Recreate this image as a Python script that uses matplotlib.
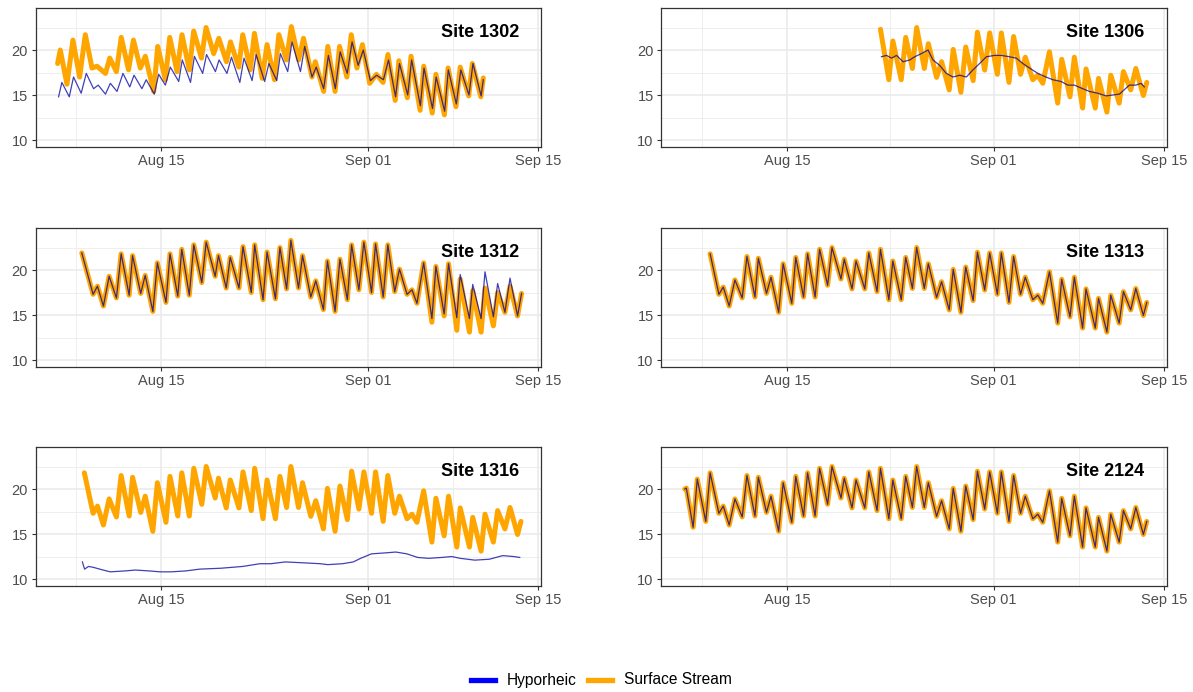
import matplotlib
matplotlib.use("Agg")
import matplotlib.pyplot as plt
from matplotlib.lines import Line2D

plt.rcParams['font.family'] = ['Liberation Sans', 'DejaVu Sans']

# ---- data (x = day: Aug d -> d, Sep d -> 31 + d) ----
surf_t = [6.57, 6.70, 7.26, 7.60, 8.30, 8.66, 9.38, 9.74, 10.23, 10.70, 11.30, 11.69, 12.35, 12.63,
          13.30, 13.67, 14.30, 14.67, 15.38, 15.71, 16.35, 16.68, 17.30, 17.67, 18.33, 18.69, 19.43,
          19.70, 20.34, 20.67, 21.39, 21.72, 22.40, 22.68, 23.37, 23.70, 24.39, 24.76, 25.31, 25.66,
          26.29, 26.62, 27.30, 27.71, 28.34, 28.67, 29.30, 29.70, 30.31, 30.66, 31.26, 31.67, 32.30,
          32.63, 33.26, 33.64, 34.21, 34.60, 35.22, 35.63, 36.04, 36.59, 37.27, 37.60, 38.28, 38.64,
          39.32, 39.60, 40.36, 40.63, 41.32, 41.64, 42.33, 42.68, 43.28, 43.70, 44.32, 44.60]
surf_v = [20.0, 20.1, 15.75, 21.1, 16.4, 21.8, 17.3, 18.1, 16.0, 18.9, 16.9, 21.5, 17.0, 21.3,
          17.4, 19.2, 15.3, 20.7, 16.3, 21.4, 17.0, 21.8, 17.0, 22.3, 18.3, 22.5, 19.0,
          21.2, 17.9, 21.0, 17.9, 21.9, 17.6, 22.3, 16.7, 21.0, 16.7, 21.4, 17.95, 22.5,
          17.95, 20.7, 16.96, 18.7, 15.57, 20.07, 15.3, 20.33, 16.6, 21.98, 17.77, 21.9, 17.3,
          21.9, 16.4, 21.5, 17.3, 19.2, 16.7, 17.2, 16.3, 19.8, 14.1, 18.97, 14.8, 19.2,
          13.55, 17.9, 13.55, 16.85, 13.1, 17.2, 14.1, 17.6, 15.57, 17.95, 14.95, 16.4]

s1302_t = [6.46, 6.68, 7.23, 7.72, 8.27, 8.74, 9.29, 9.70, 10.40, 10.75, 11.30, 11.70, 12.30, 12.70,
           13.27, 13.68, 14.37, 14.70, 15.33, 15.69, 16.29, 16.70, 17.30, 17.66, 18.30, 18.68, 19.31,
           19.73, 20.36, 20.69, 21.37, 21.70, 22.33, 22.66, 23.30, 23.70, 24.31, 24.67, 25.30, 25.70,
           26.30, 26.70, 27.40, 27.67, 28.36, 28.70, 29.30, 29.67, 30.27, 30.63, 31.10, 31.55, 32.15,
           32.70, 33.25, 33.65, 34.25, 34.55, 35.25, 35.55, 36.30, 36.60, 37.30, 37.60, 38.30, 38.60,
           39.25, 39.60, 40.30, 40.60, 41.30, 41.50]
s1302_v = [18.5, 20.0, 16.2, 21.1, 17.0, 21.7, 18.0, 18.2, 17.4, 19.1, 17.6, 21.4, 17.8, 21.1,
           18.0, 19.3, 15.4, 20.4, 16.7, 21.4, 17.6, 21.7, 17.8, 22.1, 19.1, 22.5, 19.6,
           21.3, 18.7, 20.9, 18.1, 21.7, 17.8, 21.85, 16.85, 20.6, 16.7, 21.7, 18.9, 22.6,
           18.9, 21.3, 17.0, 18.7, 15.4, 20.4, 15.4, 20.4, 17.0, 21.7, 18.0, 20.6, 16.3,
           17.3, 16.4, 19.5, 14.4, 18.8, 14.7, 19.3, 13.3, 18.2, 13.0, 17.3, 12.8, 18.0,
           13.7, 18.1, 14.9, 18.5, 14.8, 16.9]
h1302_t = [6.54, 6.81, 7.42, 7.77, 8.40, 8.82, 9.42, 9.80, 10.40, 10.80, 11.35, 11.84, 12.40, 12.75,
           13.40, 13.75, 14.42, 14.78, 15.33, 15.74, 16.43, 16.72, 17.40, 17.72, 18.40, 18.72, 19.45,
           19.75, 20.40, 20.77, 21.46, 21.80, 22.47, 22.80, 23.50, 23.85, 24.50, 24.80, 25.40, 25.75,
           26.45, 26.80, 27.40, 27.75, 28.36, 28.75, 29.32, 29.72, 30.30, 30.70, 31.20, 31.62, 32.20,
           32.72, 33.28, 33.70, 34.28, 34.60, 35.28, 35.60, 36.32, 36.62, 37.32, 37.62, 38.32, 38.62,
           39.28, 39.65, 40.32, 40.65, 41.32, 41.50]
h1302_v = [14.8, 16.4, 14.8, 17.0, 15.2, 17.4, 15.7, 16.1, 15.1, 16.3, 15.4, 17.4, 15.9, 17.2,
           15.7, 16.7, 15.1, 17.3, 16.1, 18.1, 16.5, 18.9, 16.4, 19.3, 17.4, 19.5, 17.6,
           18.9, 17.4, 19.2, 16.4, 19.1, 16.6, 19.5, 16.5, 18.5, 16.6, 19.6, 17.6, 20.9,
           17.6, 20.4, 17.0, 18.1, 15.7, 19.4, 15.7, 19.8, 17.4, 20.9, 18.3, 20.0, 16.6,
           17.2, 16.7, 18.9, 14.8, 18.5, 15.0, 18.9, 13.8, 18.0, 13.5, 17.0, 13.2, 17.8,
           14.0, 17.8, 15.0, 18.5, 14.9, 16.7]

h1306_t = [22.76, 23.17, 23.60, 24.00, 24.54, 25.10, 25.50, 26.05, 26.60, 27.00, 27.55, 28.10, 28.65,
           29.20, 29.75, 30.30, 30.84, 31.40, 32.08, 32.63, 33.30, 33.86, 34.40, 34.95, 35.64, 36.30,
           36.87, 37.55, 38.10, 38.65, 39.33, 39.88, 40.57, 41.25, 41.80, 42.35, 42.76, 43.17, 43.70,
           44.13, 44.40]
h1306_v = [19.25, 19.4, 19.1, 19.4, 18.7, 18.9, 19.25, 19.6, 20.0, 18.9, 18.3, 17.4, 17.0,
           17.2, 17.0, 17.8, 18.5, 19.25, 19.4, 19.4, 19.25, 19.1, 18.5, 18.0, 17.4, 17.0,
           16.7, 16.5, 16.1, 16.1, 15.7, 15.4, 15.2, 14.9, 15.0, 15.1, 15.6, 16.1, 16.1,
           16.3, 15.9]

s1312_t = [8.45, 9.38, 9.74, 10.23, 10.70, 11.30, 11.69, 12.35, 12.63, 13.30, 13.67, 14.30, 14.67,
           15.38, 15.71, 16.35, 16.68, 17.30, 17.67, 18.33, 18.69, 19.43, 19.70, 20.34, 20.67, 21.39,
           21.72, 22.40, 22.68, 23.37, 23.70, 24.39, 24.76, 25.31, 25.66, 26.29, 26.62, 27.30, 27.71,
           28.34, 28.67, 29.30, 29.70, 30.31, 30.66, 31.26, 31.67, 32.30, 32.63, 33.26, 33.64, 34.21,
           34.60, 35.22, 35.63, 36.04, 36.59, 37.27, 37.60, 38.28, 38.64, 39.32, 39.60, 40.36, 40.63,
           41.32, 41.64, 42.33, 42.68, 43.28, 43.70, 44.32, 44.65]
s1312_v = [21.9, 17.3, 18.2, 16.0, 19.3, 16.9, 21.8, 17.2, 21.6, 17.4, 19.4, 15.4, 20.8,
           16.4, 21.8, 17.1, 22.3, 17.2, 22.8, 18.6, 23.1, 19.3, 21.6, 18.0, 21.4, 18.0,
           22.6, 17.5, 22.8, 16.7, 22.0, 16.8, 22.5, 17.9, 23.3, 18.0, 21.6, 17.0, 18.8,
           15.6, 21.0, 15.4, 21.2, 16.7, 22.8, 17.8, 23.1, 17.5, 22.9, 17.0, 22.8, 17.6,
           20.1, 17.3, 17.8, 16.3, 20.8, 14.2, 20.4, 14.9, 20.7, 13.3, 19.0, 13.1, 17.7,
           13.1, 18.0, 13.8, 17.5, 15.3, 18.2, 14.9, 17.4]
h1312_v = [21.9, 17.3, 18.2, 16.0, 19.3, 16.9, 21.8, 17.2, 21.6, 17.4, 19.4, 15.4, 20.8,
           16.4, 21.8, 17.1, 22.3, 17.2, 22.8, 18.6, 23.1, 19.3, 21.6, 18.0, 21.4, 18.0,
           22.6, 17.5, 22.8, 16.7, 22.0, 16.8, 22.5, 17.9, 23.3, 18.0, 21.6, 17.0, 18.8,
           15.6, 21.0, 15.4, 21.2, 16.7, 22.8, 17.8, 23.1, 17.5, 22.9, 17.0, 22.8, 17.6,
           20.1, 17.3, 17.8, 16.3, 20.8, 14.6, 20.4, 15.1, 20.7, 14.7, 19.5, 14.6, 18.4,
           14.6, 19.8, 14.8, 18.5, 15.3, 19.1, 14.9, 17.4]

h1316_t = [8.50, 8.68, 9.00, 9.40, 10.20, 10.80, 12.00, 12.85, 14.00, 14.90, 15.80, 17.00, 18.15,
           19.90, 21.70, 23.10, 24.00, 25.20, 26.70, 28.10, 28.70, 29.90, 30.80, 31.40, 32.30, 33.40,
           34.30, 35.20, 36.10, 37.00, 38.10, 38.90, 39.60, 40.80, 42.00, 43.10, 44.00, 44.50]
h1316_v = [11.9, 11.1, 11.4, 11.3, 11.0, 10.8, 10.9, 11.0, 10.9, 10.8, 10.8, 10.9, 11.1,
           11.2, 11.4, 11.7, 11.7, 11.9, 11.8, 11.7, 11.6, 11.7, 11.9, 12.3, 12.8, 12.9,
           13.0, 12.8, 12.4, 12.3, 12.4, 12.5, 12.3, 12.1, 12.2, 12.6, 12.5, 12.4]

site_names = ["Site 1302", "Site 1306", "Site 1312", "Site 1313", "Site 1316", "Site 2124"]

x_tick_pos = [15, 32, 46]
x_tick_lab = ["Aug 15", "Sep 01", "Sep 15"]
x_minor = [8, 23.5, 39]
y_major = [10, 15, 20]
y_minor = [12.5, 17.5, 22.5]

BLUE = "#0000FF"
BLUE_LINE = "#0000A0"
ORANGE = "#FFA500"


def clip(t, v, t0):
    pts = [(a, b) for a, b in zip(t, v) if a >= t0]
    return [p[0] for p in pts], [p[1] for p in pts]


series = {
    "Site 1302": ((s1302_t, s1302_v), (h1302_t, h1302_v)),
    "Site 1306": (clip(surf_t, surf_v, 22.6), (h1306_t, h1306_v)),
    "Site 1312": ((s1312_t, s1312_v), (s1312_t, h1312_v)),
    "Site 1313": (clip(surf_t, surf_v, 8.55), clip(surf_t, surf_v, 8.55)),
    "Site 1316": (clip(surf_t, surf_v, 8.44), (h1316_t, h1316_v)),
    "Site 2124": ((surf_t, surf_v), (surf_t, surf_v)),
}

W, H = 1193, 692
fig = plt.figure(figsize=(W / 100, H / 100), dpi=100)
fig.patch.set_facecolor("white")

col_left = [35.5, 661.3]
row_top = [7.7, 227.7, 446.7]
pw, ph = 505.5, 139.0

for i, name in enumerate(site_names):
    r, c = divmod(i, 2)
    ax = fig.add_axes([col_left[c] / W, 1 - (row_top[r] + ph) / H, pw / W, ph / H])
    ax.set_xlim(4.64, 46.25)
    ax.set_ylim(9.26, 24.7)
    for xm in x_minor:
        ax.axvline(xm, color="#EBEBEB", lw=0.6, zorder=0)
    for ym in y_minor:
        ax.axhline(ym, color="#EBEBEB", lw=0.6, zorder=0)
    for xm in x_tick_pos:
        ax.axvline(xm, color="#EBEBEB", lw=1.2, zorder=0)
    for ym in y_major:
        ax.axhline(ym, color="#EBEBEB", lw=1.2, zorder=0)
    (st, sv), (ht, hv) = series[name]
    ax.plot(st, sv, color=ORANGE, lw=3.6, solid_joinstyle="round", solid_capstyle="round", zorder=2)
    ax.plot(ht, hv, color=BLUE_LINE, lw=0.9, alpha=0.75, solid_joinstyle="round", zorder=3)
    ax.set_xticks(x_tick_pos)
    ax.set_xticklabels(x_tick_lab)
    ax.set_yticks(y_major)
    ax.tick_params(axis="both", length=3, width=0.8, color="#333333", labelcolor="#4D4D4D",
                   labelsize=10.5, pad=2.5)
    for sp in ax.spines.values():
        sp.set_color("#333333")
        sp.set_linewidth(0.9)
    ax.text(41.2, 21.95, name, ha="center", va="center", fontsize=13, fontweight="bold", color="black")

# legend
ly = 1 - 680 / H
fig.add_artist(Line2D([470.7 / W, 495 / W], [ly, ly], color=BLUE, lw=3.8, transform=fig.transFigure))
fig.text(507 / W, ly, "Hyporheic", fontsize=11.2, va="center", ha="left", color="black")
fig.add_artist(Line2D([588 / W, 612 / W], [ly, ly], color=ORANGE, lw=3.8, transform=fig.transFigure))
fig.text(624 / W, ly, "Surface Stream", fontsize=11.2, va="center", ha="left", color="black")

fig.savefig("out.png", dpi=100, facecolor="white")
